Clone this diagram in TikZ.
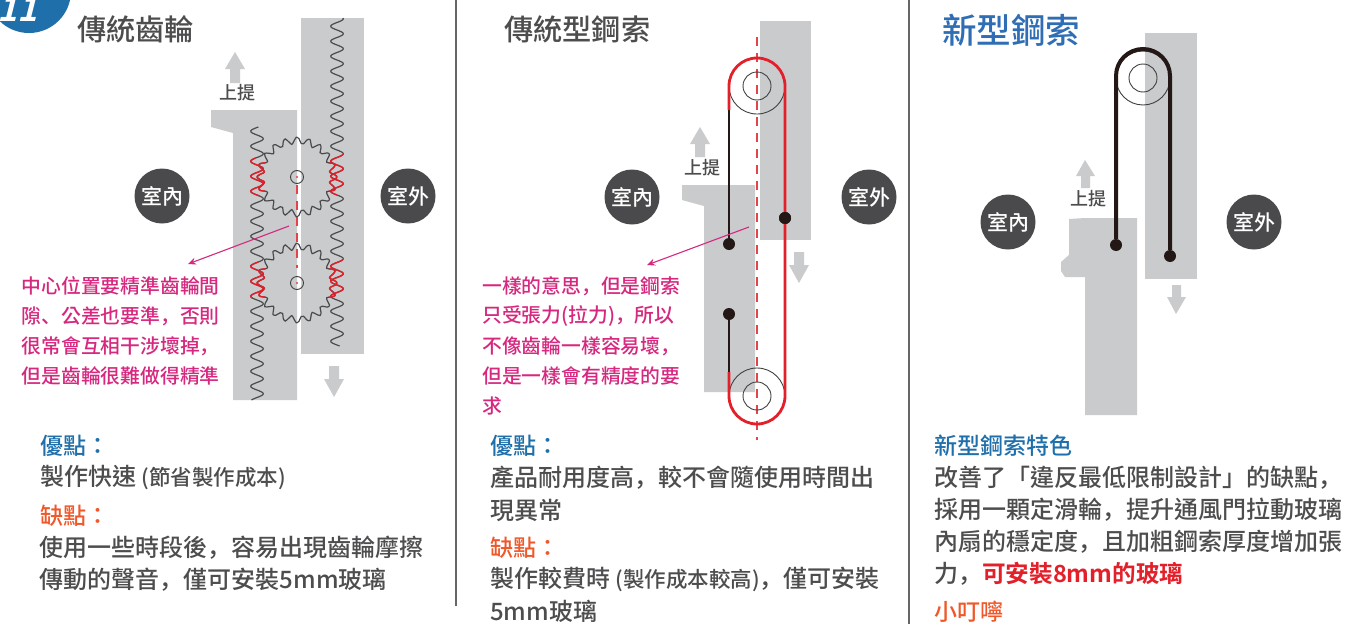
\documentclass[tikz,border=0pt]{standalone}
\usepackage{fontspec}
\setmainfont{Noto Sans CJK TC Medium}[BoldFont={Noto Sans CJK TC Bold}]
\newfontfamily\cjp{Noto Sans CJK JP Medium}
\newcommand{\cm}{{\cjp ，}}
\newcommand{\dn}{{\cjp 、}}
\definecolor{panel}{HTML}{CACBCD}
\definecolor{dkc}{HTML}{4A4A4C}
\definecolor{txt}{HTML}{4D4D4F}
\definecolor{pinkc}{HTML}{D6287F}
\definecolor{redc}{HTML}{E3202A}
\definecolor{bluec}{HTML}{1F6FAA}
\definecolor{newblue}{HTML}{2F6DB5}
\definecolor{orangec}{HTML}{F0582A}
\definecolor{ropek}{HTML}{231815}
\newcommand{\rackw}[5]{\draw[#1] plot[domain=#3:#4,samples=#5,smooth] ({#2+6.3*sin(24*\x)},\x);}
\newcommand{\gearw}[5]{\draw[#1] plot[domain=#4:#5,samples=90,smooth] ({#2+(36.5+3.5*cos(20*(\x-90)))*cos(\x)},{#3-(36.5+3.5*cos(20*(\x-90)))*sin(\x)});}
\usetikzlibrary{arrows.meta}
\tikzset{
 x=1pt,y=-1pt,
 panelshape/.style={fill=panel,draw=none},
 gray arrow/.style={fill=panel,draw=none},
 badgedot/.style={circle,fill=dkc,minimum size=55pt,inner sep=0pt,text=white,font=\fontsize{21}{21}\selectfont},
 lift/.style={text=txt,font=\fontsize{18}{18}\selectfont,inner sep=0pt},
 title/.style={anchor=west,inner sep=0pt,text=txt,font=\fontsize{29.2}{29}\selectfont},
 body/.style={anchor=west,inner sep=0pt,text=txt,font=\fontsize{24}{24}\selectfont},
 head/.style={anchor=west,inner sep=0pt,font=\fontsize{23}{23}\selectfont},
 note/.style={anchor=west,inner sep=0pt,text=pinkc,font=\fontsize{19.8}{20}\selectfont},
 leader/.style={draw=pinkc,line width=1.1pt,-{Stealth[length=8pt,width=7pt]}},
 divider/.style={draw=black!60,line width=1.3pt},
 wave/.style={draw=dkc,line width=1.2pt},
 wavered/.style={draw=redc,line width=1.4pt},
 centerline/.style={draw=redc!85!white,line width=1.2pt,dash pattern=on 9pt off 7pt},
 rope/.style={line width=2.8pt,draw=ropek},
 ropered/.style={line width=2.8pt,draw=redc},
 ropefat/.style={line width=4pt,draw=ropek},
 pulley/.style={draw=black!75,line width=0.9pt},
 pindot/.style={circle,fill=ropek,minimum size=12pt,inner sep=0pt},
}
\begin{document}
\begin{tikzpicture}
\useasboundingbox (0,0) rectangle (1348,624);
\fill[white] (0,0) rectangle (1348,624);
% badge
\begin{scope}
\clip (0,0) rectangle (1348,624);
\fill[bluec] (29,-9) circle (42);
\node[text=white,inner sep=0pt,transform shape,xslant=0.25,font=\fontsize{34}{34}\selectfont\bfseries] (badge) at (21,9) {11};
\end{scope}
% dividers
\draw[divider] (456,0) -- (456,606);
\draw[divider] (909,0) -- (909,624);
% titles
\node[title] (t1) at (77,29) {傳統齒輪};
\node[title] (t2) at (504,29) {傳統型鋼索};
\node[title,text=newblue,font=\fontsize{34.5}{34}\selectfont] (t3) at (942,30) {新型鋼索};

%% PANEL 1
\fill[panelshape] (211,110) -- (297,110) -- (297,400) -- (233,400) -- (233,133) -- (211,127) -- cycle;
\fill[panelshape] (301,18) rectangle (364,354);
\fill[gray arrow] (235,52) -- (245,69) -- (240,69) -- (240,83) -- (230,83) -- (230,69) -- (225,69) -- cycle;
\fill[gray arrow] (334,397) -- (344,379) -- (339,379) -- (339,366) -- (329,366) -- (329,379) -- (324,379) -- cycle;
\node[lift] (up1) at (237,93) {上提};
\rackw{wave}{337}{18}{346}{329}
\rackw{wave}{257}{127}{400}{274}
\rackw{wavered}{337}{154}{195}{42}
\rackw{wavered}{337}{260}{297}{38}
\rackw{wavered}{257}{158}{196}{39}
\rackw{wavered}{257}{262}{298}{37}
\draw[centerline] (297,185) -- (297,268);
\gearw{wave}{297}{177}{-180}{180}
\gearw{wave}{297}{283}{-180}{180}
\gearw{wavered}{297}{177}{-24}{24}
\gearw{wavered}{297}{177}{156}{204}
\gearw{wavered}{297}{283}{-24}{24}
\gearw{wavered}{297}{283}{156}{204}
\draw[pulley] (297,177) circle (6.5);
\draw[pulley] (297,283) circle (6.5);
\fill[redc!85!white] (297,177) circle (1.2);
\fill[redc!85!white] (297,283) circle (1.2);
\node[badgedot] (in1) at (162,196) {室內};
\node[badgedot] (out1) at (408,196) {室外};
\coordinate (l1a) at (289,226);
\coordinate (l1b) at (188,264);
\draw[leader] (l1a) -- (l1b);
\node[note] (n11) at (21.5,286) {中心位置要精準齒輪間};
\node[note] (n12) at (21.5,316) {隙\dn 公差也要準\cm 否則};
\node[note] (n13) at (21.5,346) {很常會互相干涉壞掉\cm};
\node[note] (n14) at (21.5,376) {但是齒輪很難做得精準};
\node[head,text=bluec] (a1) at (40,446) {優點：};
\node[body] (a2) at (40,478) {製作快速 {\fontsize{21.5}{21}\selectfont (節省製作成本)}};
\node[head,text=orangec] (a3) at (40,516) {缺點：};
\node[body] (a4) at (39.5,548) {使用一些時段後\cm 容易出現齒輪摩擦};
\node[body] (a5) at (39.5,580) {傳動的聲音\cm 僅可安裝5mm玻璃};

%% PANEL 2
\fill[panelshape] (682,185) -- (755,185) -- (755,392) -- (704,392) -- (704,206) -- (682,200) -- cycle;
\fill[panelshape] (760,21) rectangle (811,240);
\fill[gray arrow] (700,127) -- (710,144) -- (705,144) -- (705,157) -- (695,157) -- (695,144) -- (690,144) -- cycle;
\fill[gray arrow] (799,283) -- (809,265) -- (804,265) -- (804,252) -- (794,252) -- (794,265) -- (789,265) -- cycle;
\node[lift] (up2) at (702,168) {上提};
\draw[centerline] (757,37) -- (757,440);
\draw[pulley] (757,86) circle (28);
\draw[pulley] (757,86) circle (14);
\draw[pulley] (757,396) circle (28);
\draw[pulley] (757,396) circle (14);
\node[pindot] (p21) at (729,244) {};
\node[pindot] (p22) at (729,314) {};
\node[pindot] (p23) at (785,218) {};
\draw[rope] (729,110) -- (p21);
\draw[rope] (p22) -- (729,372);
\draw[ropered] (729,110) -- (729,86) arc[start angle=180,end angle=360,radius=28] -- (785,396) arc[start angle=0,end angle=180,radius=28] -- (729,372);
\node[pindot] at (p23) {};
\node[badgedot] (in2) at (632,197) {室內};
\node[badgedot] (out2) at (869,197) {室外};
\coordinate (l2a) at (749,227);
\coordinate (l2b) at (647,265);
\draw[leader] (l2a) -- (l2b);
\node[note] (n21) at (482,286) {一樣的意思\cm 但是鋼索};
\node[note] (n22) at (482,316) {只受張力(拉力)\cm 所以};
\node[note] (n23) at (482,346) {不像齒輪一樣容易壞\cm};
\node[note] (n24) at (482,376) {但是一樣會有精度的要};
\node[note] (n25) at (482,406) {求};
\node[head,text=bluec] (b1) at (490,446) {優點：};
\node[body] (b2) at (490,478) {產品耐用度高\cm 較不會隨使用時間出};
\node[body] (b3) at (490,510) {現異常};
\node[head,text=orangec] (b4) at (490,548) {缺點：};
\node[body] (b5) at (490,579) {製作較費時 {\fontsize{21.5}{21}\selectfont (製作成本較高)}\cm 僅可安裝};
\node[body] (b6) at (490,611) {5mm玻璃};

%% PANEL 3
\fill[panelshape] (1069,219) -- (1085,218) -- (1137,218) -- (1137,415) -- (1085,415) -- (1085,277) -- (1065,277) -- (1061,271) -- (1061,262) -- (1069,255) -- cycle;
\fill[panelshape] (1145,33) rectangle (1197,279);
\fill[gray arrow] (1085,160) -- (1095,176) -- (1090,176) -- (1090,188) -- (1081,188) -- (1081,176) -- (1076,176) -- cycle;
\fill[gray arrow] (1176,314) -- (1186,297) -- (1181,297) -- (1181,285) -- (1172,285) -- (1172,297) -- (1167,297) -- cycle;
\node[lift] (up3) at (1088,199) {上提};
\draw[pulley] (1143,78) circle (27);
\draw[pulley] (1143,78) circle (14);
\node[pindot] (p31) at (1116,245) {};
\node[pindot] (p32) at (1170,256) {};
\draw[ropefat] (p31) -- (1116,76) arc[start angle=180,end angle=360,radius=27] -- (p32);
\node[badgedot] (in3) at (1008,222) {室內};
\node[badgedot] (out3) at (1254,222) {室外};
\node[head,text=bluec] (c1) at (934,446) {新型鋼索特色};
\node[body] (c2) at (934,478) {改善了「違反最低限制設計」的缺點\cm};
\node[body] (c3) at (934,510) {採用一顆定滑輪\cm 提升通風門拉動玻璃};
\node[body] (c4) at (934,542) {內扇的穩定度\cm 且加粗鋼索厚度增加張};
\node[body] (c5) at (934,574) {力\cm {\fontsize{23.6}{24}\selectfont\bfseries\color{redc}可安裝8mm的玻璃}};
\node[head,text=orangec] (c6) at (934,612) {小叮嚀};
\end{tikzpicture}
\end{document}
